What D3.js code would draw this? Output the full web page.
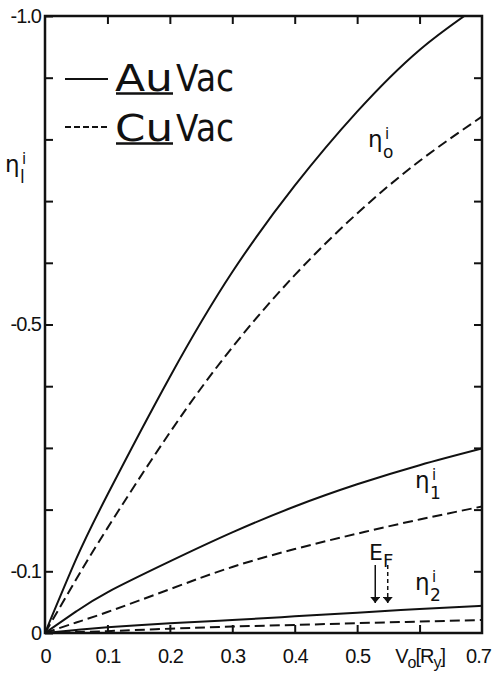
<!DOCTYPE html>
<html>
<head>
<meta charset="utf-8">
<script src="https://cdn.jsdelivr.net/npm/d3@7"></script>
<style>
  html, body { margin: 0; padding: 0; background: #fff; }
  svg { display: block; }
  .axis text { font-family: "Liberation Sans", Arial, sans-serif; font-size: 20px; letter-spacing: -1px; fill: #111; }
  .axis line { stroke: #111; stroke-width: 2; }
  .axis .domain { display: none; }
  .lbl { font-family: "DejaVu Sans", sans-serif; fill: #111; }
</style>
</head>
<body>
<div id="chart"></div>
<script>
// potential V0 in Ry
const V0 = [0, 0.05, 0.1, 0.2, 0.3, 0.4, 0.5, 0.6, 0.7]

// phase shifts (solid = Au/Vac, dashed = Cu/Vac)
const AU_ETA0 = [0, -0.12, -0.224, -0.415, -0.585, -0.725, -0.845, -0.945, -1.02]
const CU_ETA0 = [0, -0.087, -0.17, -0.325, -0.463, -0.58, -0.68, -0.765, -0.837]
const AU_ETA1 = [0, -0.035, -0.066, -0.116, -0.163, -0.205, -0.241, -0.272, -0.299]
const CU_ETA1 = [0, -0.017, -0.034, -0.071, -0.107, -0.136, -0.161, -0.184, -0.205]
const AU_ETA2 = [0, -0.005, -0.0095, -0.016, -0.021, -0.027, -0.033, -0.039, -0.044]
const CU_ETA2 = [0, -0.0015, -0.003, -0.007, -0.0105, -0.013, -0.016, -0.0185, -0.021]

const X_TICKS = [0, 0.1, 0.2, 0.3, 0.4, 0.5, 0.6, 0.7]
const Y_TICKS = [0, -0.1, -0.2, -0.3, -0.4, -0.5, -0.6, -0.7, -0.8, -0.9, -1.0]
const Y_LABELS = { '0': '0', '-0.1': '-0.1', '-0.5': '-0.5', '-1': '-1.0' }

// E_F markers (Au solid, Cu dashed)
const EF_V = [0.529, 0.549]

const W = 493, H = 673
const plotLeft = 45, plotRight = 482, plotTop = 16, plotBottom = 633

const svg = d3.select('#chart').append('svg')
  .attr('width', W).attr('height', H)

const x = d3.scaleLinear().domain([0, 0.7]).range([plotLeft, plotRight])
const y = d3.scaleLinear().domain([0, -1]).range([plotBottom, plotTop])

const defs = svg.append('defs')
defs.append('clipPath').attr('id', 'plot')
  .append('rect').attr('x', plotLeft).attr('y', plotTop)
  .attr('width', plotRight - plotLeft).attr('height', plotBottom - plotTop)

// axes, ticks pointing inward
svg.append('g').attr('class', 'axis')
  .attr('transform', `translate(${plotLeft},0)`)
  .call(d3.axisLeft(y).tickValues(Y_TICKS).tickSize(-8).tickPadding(4)
    .tickFormat((d) => Y_LABELS[String(+d.toFixed(1))] ?? ''))

svg.append('g').attr('class', 'axis')
  .attr('transform', `translate(${plotRight},0)`)
  .call(d3.axisRight(y).tickValues(Y_TICKS.slice(1, -1)).tickSize(-8).tickFormat(''))

svg.append('g').attr('class', 'axis')
  .attr('transform', `translate(0,${plotTop})`)
  .call(d3.axisTop(x).tickValues(X_TICKS.slice(1, -1)).tickSize(-8).tickFormat(''))

const xAxis = svg.append('g').attr('class', 'axis')
  .attr('transform', `translate(0,${plotBottom})`)
  .call(d3.axisBottom(x).tickValues(X_TICKS).tickSize(-8).tickPadding(16)
    .tickFormat((d) => (d === 0 ? '0' : d.toFixed(1))))

// 0 and 0.7 ticks sit on the frame
xAxis.selectAll('.tick').filter((d) => d === 0 || d === 0.7).select('line').remove()
xAxis.selectAll('.tick').filter((d) => d === 0.7).select('text').attr('dx', -4)

// 0.6 is replaced by the axis title V0[Ry]
const vt = xAxis.selectAll('.tick').filter((d) => Math.abs(d - 0.6) < 1e-9).select('text')
vt.text(null)
vt.append('tspan').text('V')
vt.append('tspan').attr('dy', 5).attr('font-size', 16).text('o')
vt.append('tspan').attr('dy', -5).text('[R')
vt.append('tspan').attr('dy', 5).attr('font-size', 16).text('y')
vt.append('tspan').attr('dy', -5).text(']')

// frame
svg.append('rect')
  .attr('x', plotLeft).attr('y', plotTop)
  .attr('width', plotRight - plotLeft).attr('height', plotBottom - plotTop)
  .attr('fill', 'none').attr('stroke', '#111').attr('stroke-width', 2.5)

// curves
const line = d3.line()
  .x((d) => x(d[0]))
  .y((d) => y(d[1]))
  .curve(d3.curveNatural)

const series = [
  { values: AU_ETA0, dash: null },
  { values: CU_ETA0, dash: '10,5' },
  { values: AU_ETA1, dash: null },
  { values: CU_ETA1, dash: '10,5' },
  { values: AU_ETA2, dash: null },
  { values: CU_ETA2, dash: '10,5' },
]

const curves = svg.append('g').attr('clip-path', 'url(#plot)')
series.forEach((s) => {
  curves.append('path')
    .datum(V0.map((v, i) => [v, s.values[i]]))
    .attr('d', line)
    .attr('fill', 'none')
    .attr('stroke', '#111')
    .attr('stroke-width', 2)
    .attr('stroke-dasharray', s.dash)
})

// curve labels: eta with superscript i and a subscript
function etaLabel(px, py, sub) {
  const g = svg.append('g').attr('class', 'lbl')
  g.append('text').attr('x', px).attr('y', py).attr('font-size', 23).text('η')
  g.append('text').attr('x', px + 17).attr('y', py - 8).attr('font-size', 15).text('i')
  g.append('text').attr('x', px + 15).attr('y', py + 11).attr('font-size', 17).text(sub)
}
etaLabel(368, 147, 'o')
etaLabel(415, 488, '1')
etaLabel(415, 590, '2')

// y axis title
etaLabel(5, 172, 'l')

// Fermi energy arrows
defs.append('marker').attr('id', 'head')
  .attr('viewBox', '0 0 6 10').attr('refX', 6).attr('refY', 5)
  .attr('markerWidth', 6).attr('markerHeight', 10).attr('markerUnits', 'userSpaceOnUse')
  .attr('orient', 'auto')
  .append('path').attr('d', 'M0,0L6,5L0,10Z').attr('fill', '#111')

EF_V.forEach((v, i) => {
  svg.append('line')
    .attr('x1', x(v)).attr('x2', x(v))
    .attr('y1', 565).attr('y2', 603)
    .attr('stroke', '#111').attr('stroke-width', 1.5)
    .attr('stroke-dasharray', i === 1 ? '4,3' : null)
    .attr('marker-end', 'url(#head)')
})

const ef = svg.append('text').attr('class', 'lbl')
  .attr('x', 369).attr('y', 560)
  .attr('font-family', '"Liberation Sans", Arial, sans-serif')
  .attr('font-size', 22)
ef.append('tspan').text('E')
ef.append('tspan').attr('dy', 7).attr('font-size', 18).text('F')

// legend
const legend = [
  { metal: 'Au', dash: null, ly: 79, base: 91 },
  { metal: 'Cu', dash: '6,3', ly: 127, base: 141 },
]
legend.forEach((d) => {
  svg.append('line')
    .attr('x1', 65).attr('x2', 108).attr('y1', d.ly).attr('y2', d.ly)
    .attr('stroke', '#111').attr('stroke-width', 2)
    .attr('stroke-dasharray', d.dash)
  svg.append('text').attr('class', 'lbl')
    .attr('x', 115).attr('y', d.base)
    .attr('font-family', '"Liberation Sans", Arial, sans-serif')
    .attr('font-size', 37)
    .attr('textLength', 58).attr('lengthAdjust', 'spacingAndGlyphs')
    .text(d.metal)
  svg.append('line')
    .attr('x1', 116).attr('x2', 173).attr('y1', d.base + 2.5).attr('y2', d.base + 2.5)
    .attr('stroke', '#111').attr('stroke-width', 2.5)
  svg.append('text').attr('class', 'lbl')
    .attr('x', 176).attr('y', d.base)
    .attr('font-family', '"Liberation Sans", Arial, sans-serif')
    .attr('font-size', 37)
    .attr('textLength', 58).attr('lengthAdjust', 'spacingAndGlyphs')
    .text('Vac')
})
</script>
</body>
</html>
